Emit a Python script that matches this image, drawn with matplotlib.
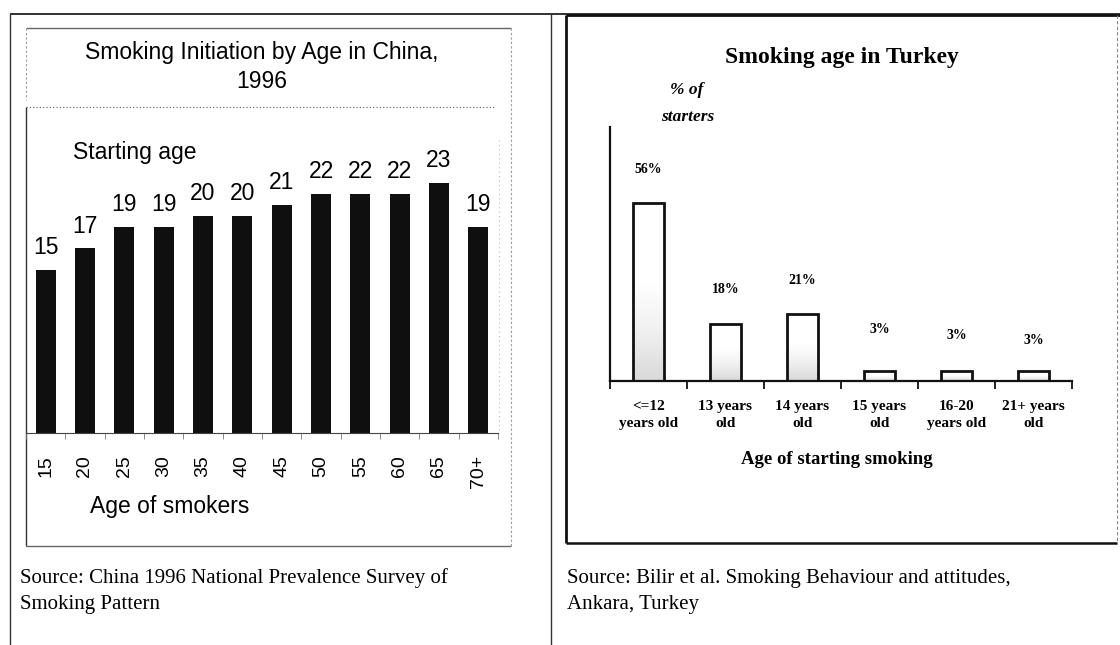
import numpy as np
import matplotlib
matplotlib.use('Agg')
import matplotlib.pyplot as plt

W, H = 1120, 645

china_ages = ['15', '20', '25', '30', '35', '40', '45', '50', '55', '60', '65', '70+']
china_start_age = [15, 17, 19, 19, 20, 20, 21, 22, 22, 22, 23, 19]

turkey_groups = ['<=12\nyears old', '13 years\nold', '14 years\nold',
                 '15 years\nold', '16-20\nyears old', '21+ years\nold']
turkey_pct = [56, 18, 21, 3, 3, 3]

# gap (points) between bar top and its % label
pct_label_gap = [24, 24.5, 24.5, 30.5, 26, 22]

SANS = 'Liberation Sans'
SERIF = 'Liberation Serif'


def rect(x0, y0, x1, y1):
    # pixel box, origin top-left -> figure fractions
    return [x0 / W, 1 - y1 / H, (x1 - x0) / W, (y1 - y0) / H]


fig = plt.figure(figsize=(W / 100, H / 100), dpi=100)
page = fig.add_axes([0, 0, 1, 1], zorder=0)
page.set_xlim(0, W)
page.set_ylim(H, 0)
page.axis('off')


def rule(xs, ys, **kw):
    page.plot(xs, ys, solid_capstyle='butt', **kw)


# table lines
rule([10, W], [14, 14], color='#222222', lw=1.3)
rule([10, 10], [14, H], color='#333333', lw=1)
rule([551, 551], [14, H], color='#333333', lw=1)

# frame round the China chart
rule([26, 511], [28, 28], color='#666666', lw=1)
rule([26, 26], [28, 100], color='#999999', lw=0.8, ls=(0, (2, 2)))
rule([26, 26], [107, 546], color='#333333', lw=1)
rule([511, 511], [28, 546], color='#999999', lw=0.8, ls=(0, (2, 2)))
rule([26, 511], [546, 546], color='#666666', lw=1)
rule([26, 495], [107, 107], color='#555555', lw=0.8, ls=(0, (1, 2)))
rule([499, 499], [140, 433], color='#bbbbbb', lw=0.8, ls=(0, (1, 3)))

# frame round the Turkey chart
rule([566, 566], [15, 543], color='#111111', lw=2)
rule([566, W], [15, 15], color='#111111', lw=2)
rule([566, 1117], [543, 543], color='#111111', lw=1.8)
rule([1117, 1117], [15, 543], color='#888888', lw=0.8, ls=(0, (3, 2)))

# ---- China ----
ax1 = fig.add_axes(rect(26, 107, 498, 433), zorder=1)
ax1.patch.set_alpha(0)
x1 = np.arange(len(china_ages))
ax1.bar(x1, china_start_age, width=0.51, color='#0f0f0f')
ax1.set_xlim(-0.5, len(china_ages) - 0.5)
ax1.set_ylim(0, 30)
for s in ['left', 'top', 'right']:
    ax1.spines[s].set_visible(False)
ax1.spines['bottom'].set_color('#444444')
ax1.set_yticks([])
ax1.set_xticks(x1, china_ages, rotation=90, fontsize=14, family=SANS)
ax1.set_xticks(np.arange(-0.5, len(china_ages), 1), minor=True)
ax1.tick_params(axis='x', which='major', length=0, pad=16)
ax1.tick_params(axis='x', which='minor', length=4, color='#777777')
for x, v in zip(x1, china_start_age):
    ax1.annotate(str(v), (x, v), xytext=(0, 16), textcoords='offset points',
                 ha='center', va='center', fontsize=16.5, family=SANS)

page.text(262, 52, 'Smoking Initiation by Age in China,', ha='center', va='center',
          fontsize=16.5, family=SANS)
page.text(262, 82, '1996', ha='center', va='center', fontsize=16.5, family=SANS)
page.text(73, 152, 'Starting age', ha='left', va='center', fontsize=16.5, family=SANS)
page.text(90, 506, 'Age of smokers', ha='left', va='center', fontsize=16.5, family=SANS)
page.text(20, 578, 'Source: China 1996 National Prevalence Survey of', ha='left', va='center',
          fontsize=15, family=SERIF)
page.text(20, 604, 'Smoking Pattern', ha='left', va='center', fontsize=15, family=SERIF)

# ---- Turkey ----
ax2 = fig.add_axes(rect(610, 127, 1072, 381), zorder=1)
ax2.patch.set_alpha(0)
x2 = np.arange(len(turkey_groups))
bw = 0.4
ax2.bar(x2, turkey_pct, width=bw, color='white', edgecolor='none', zorder=2)
shade = (np.clip(np.linspace(1, -0.8, 100), 0, 1) * 0.25).reshape(-1, 1)
for x, v in zip(x2, turkey_pct):
    ax2.imshow(shade, extent=(x - bw / 2, x + bw / 2, 0, v), origin='lower',
               aspect='auto', cmap='Greys', vmin=0, vmax=1, zorder=2.5)
ax2.bar(x2, turkey_pct, width=bw, fill=False, edgecolor='#111111', lw=2, zorder=3)
ax2.set_xlim(-0.5, len(turkey_groups) - 0.5)
ax2.set_ylim(0, 80)
for s in ['top', 'right']:
    ax2.spines[s].set_visible(False)
for s in ['left', 'bottom']:
    ax2.spines[s].set_color('#111111')
    ax2.spines[s].set_linewidth(1.6)
ax2.set_yticks([])
ax2.set_xticks(x2, turkey_groups, fontsize=11, family=SERIF, fontweight='bold',
               linespacing=1.4)
ax2.set_xticks(np.arange(-0.5, len(turkey_groups), 1), minor=True)
ax2.tick_params(axis='x', which='major', length=0, pad=14)
ax2.tick_params(axis='x', which='minor', length=6, width=1.3, color='#111111')
for x, v, g in zip(x2, turkey_pct, pct_label_gap):
    ax2.annotate(f'{v}%', (x, v), xytext=(0, g), textcoords='offset points',
                 ha='center', va='center', fontsize=10, family=SERIF, fontweight='bold')

page.text(842, 57, 'Smoking age in Turkey', ha='center', va='center', fontsize=17,
          family=SERIF, fontweight='bold')
page.text(687, 90, '% of', ha='center', va='center', fontsize=12.5, family=SERIF,
          fontweight='bold', style='italic')
page.text(688, 117, 'starters', ha='center', va='center', fontsize=12.5, family=SERIF,
          fontweight='bold', style='italic')
page.text(837, 460, 'Age of starting smoking', ha='center', va='center', fontsize=13.5,
          family=SERIF, fontweight='bold')
page.text(567, 578, 'Source: Bilir et al. Smoking Behaviour and attitudes,', ha='left',
          va='center', fontsize=15, family=SERIF)
page.text(567, 604, 'Ankara, Turkey', ha='left', va='center', fontsize=15, family=SERIF)

fig.savefig('out.png', dpi=100)
